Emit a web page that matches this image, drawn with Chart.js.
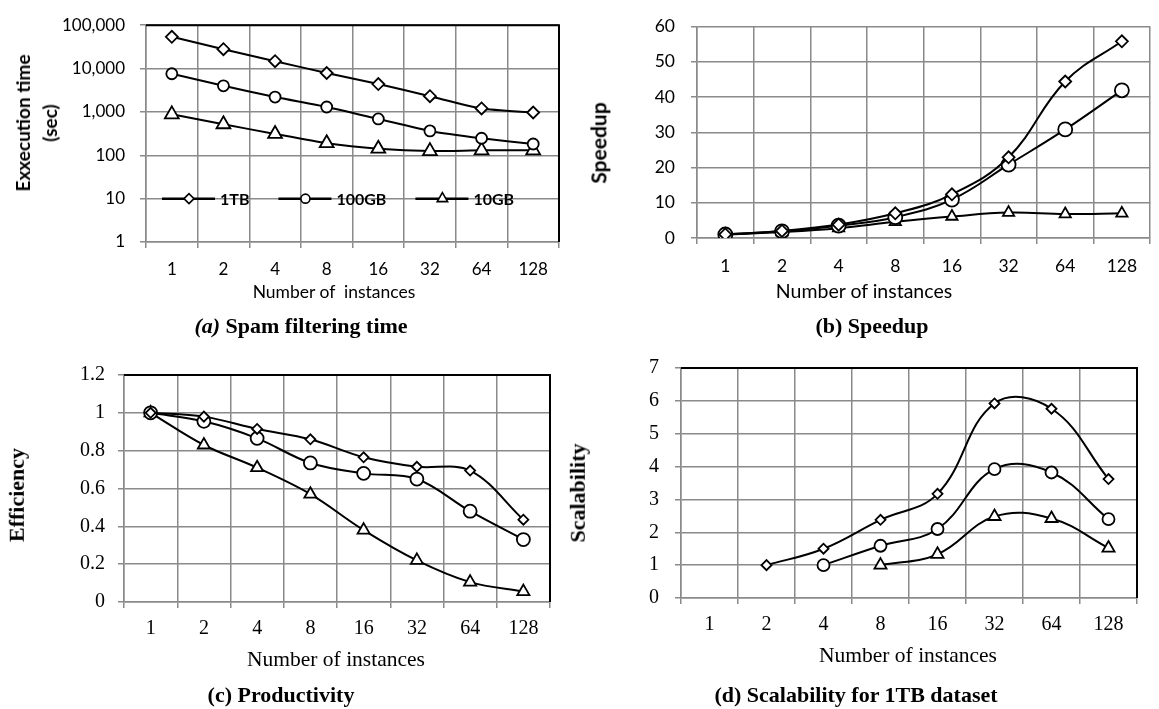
<!DOCTYPE html>
<html>
<head>
<meta charset="utf-8">
<script src="https://cdn.jsdelivr.net/npm/chart.js@4/dist/chart.umd.min.js"></script>
<style>
  html, body { margin: 0; padding: 0; background: #fff; }
  #page { position: relative; width: 1159px; height: 709px; overflow: hidden; background: #fff; }
  canvas { position: absolute; }
  .t { position: absolute; transform: translate(-50%, -50%); white-space: pre; color: #000; line-height: 1.2; }
  .rot { transform: translate(-50%, -50%) rotate(-90deg); text-align: center; }
  .sans { font-family: Lato, Carlito, Calibri, sans-serif; }
  .serif { font-family: "Liberation Serif", "Times New Roman", serif; }
</style>
</head>
<body>
<div id="page">
  <canvas id="chartA" width="580" height="300" style="left:0;top:0"></canvas>
  <canvas id="chartB" width="579" height="300" style="left:580px;top:0"></canvas>
  <canvas id="chartC" width="580" height="340" style="left:0;top:340px"></canvas>
  <canvas id="chartD" width="579" height="340" style="left:580px;top:340px"></canvas>

  <div class="t rot sans" style="left:36px;top:123px;font-size:19px;font-weight:bold;line-height:27px">Exxecution time<br>(sec)</div>
  <div class="t sans" style="left:334px;top:291px;font-size:17.5px">Number of  instances</div>
  <div class="t serif" style="left:301px;top:326px;font-size:22px;font-weight:bold"><i>(a)</i> Spam filtering time</div>

  <div class="t rot sans" style="left:598px;top:143px;font-size:21px;font-weight:bold">Speedup</div>
  <div class="t sans" style="left:864px;top:291px;font-size:19.5px">Number of instances</div>
  <div class="t serif" style="left:872px;top:326px;font-size:22px;font-weight:bold">(b) Speedup</div>

  <div class="t rot serif" style="left:17px;top:495px;font-size:22px;font-weight:bold">Efficiency</div>
  <div class="t serif" style="left:336px;top:660px;font-size:21.5px">Number of instances</div>
  <div class="t serif" style="left:281px;top:695px;font-size:22px;font-weight:bold">(c) Productivity</div>

  <div class="t rot serif" style="left:578px;top:493px;font-size:22px;font-weight:bold">Scalability</div>
  <div class="t serif" style="left:908px;top:656px;font-size:21.5px">Number of instances</div>
  <div class="t serif" style="left:856px;top:695px;font-size:22px;font-weight:bold">(d) Scalability for 1TB dataset</div>
</div>
<script>
// number of instances on every x axis
const instances = ['1', '2', '4', '8', '16', '32', '64', '128'];
const datasetNames = ['1TB', '100GB', '10GB'];

// (a) spam filtering time, seconds (log scale)
const timeTicks = [1, 10, 100, 1000, 10000, 100000];
const time1TB = [54000, 28000, 14800, 7900, 4400, 2300, 1200, 970];
const time100GB = [7600, 4000, 2200, 1300, 690, 365, 247, 182];
const time10GB = [880, 520, 310, 190, 142, 125, 130, 130];

// (b) speedup
const speed1TB = [1, 2.0, 3.8, 7.0, 12.4, 22.9, 44.4, 55.8];
const speed100GB = [1, 1.9, 3.5, 5.9, 10.9, 20.8, 30.8, 41.9];
const speed10GB = [1, 1.7, 2.8, 4.6, 6.1, 7.2, 6.8, 7.0];

// (c) efficiency
const eff1TB = [1, 0.98, 0.915, 0.86, 0.765, 0.715, 0.695, 0.435];
const eff100GB = [1, 0.955, 0.865, 0.735, 0.68, 0.65, 0.48, 0.33];
const eff10GB = [1, 0.83, 0.71, 0.57, 0.38, 0.22, 0.105, 0.055];

// (d) scalability for 1TB dataset
const scal1TB = [null, 1.0, 1.5, 2.38, 3.17, 5.92, 5.76, 3.62];
const scal100GB = [null, null, 1.0, 1.59, 2.1, 3.92, 3.82, 2.4];
const scal10GB = [null, null, null, 1.0, 1.33, 2.48, 2.42, 1.52];

const SANS = 'Lato, Carlito, Calibri, sans-serif';
const SERIF = '"Liberation Serif", "Times New Roman", serif';
const GRID = '#8a8a8a';
const SHAPES = ['rectRot', 'circle', 'triangle'];

function series(label, data, shape, radius, tension) {
  return {
    label, data,
    borderColor: '#000', backgroundColor: '#fff', borderWidth: 2,
    pointStyle: shape, pointRadius: radius, pointHoverRadius: radius,
    pointBorderWidth: 1.8, pointBackgroundColor: '#fff', pointBorderColor: '#000',
    tension
  };
}

// black top/right edge of the plot box
const frameEdge = {
  id: 'frameEdge',
  beforeDatasetsDraw(chart, args, opts) {
    if (!opts.on) return;
    const { ctx, chartArea: a } = chart;
    ctx.save();
    ctx.strokeStyle = '#000';
    ctx.lineWidth = 2;
    ctx.beginPath();
    ctx.moveTo(a.left, a.top);
    ctx.lineTo(a.right, a.top);
    ctx.lineTo(a.right, a.bottom);
    ctx.stroke();
    ctx.restore();
  }
};

// in-plot legend of chart (a), sitting on the "10" gridline
const innerLegend = {
  id: 'innerLegend',
  afterDatasetsDraw(chart, args, opts) {
    if (!opts.on) return;
    const { ctx, chartArea: a, scales: { y } } = chart;
    const yy = y.getPixelForValue(opts.at);
    const sizes = [5, 4.5, 6];
    let x = a.left + 16;
    ctx.save();
    ctx.font = 'bold 16px ' + SANS;
    ctx.textBaseline = 'middle';
    chart.data.datasets.forEach((ds, i) => {
      ctx.strokeStyle = '#000';
      ctx.lineWidth = 2.5;
      ctx.beginPath();
      ctx.moveTo(x, yy);
      ctx.lineTo(x + 53, yy);
      ctx.stroke();
      ctx.fillStyle = '#fff';
      ctx.lineWidth = 1.6;
      Chart.helpers.drawPoint(ctx, { pointStyle: SHAPES[i], radius: sizes[i], borderWidth: 1.6, rotation: 0 }, x + 27, yy);
      ctx.fillStyle = '#000';
      ctx.fillText(ds.label, x + 58, yy + 1);
      x += 58 + ctx.measureText(ds.label).width + 29;
    });
    ctx.restore();
  }
};

function xAxis(font, height, pad) {
  return {
    type: 'category', offset: true,
    grid: { offset: true, color: GRID, lineWidth: 1.5, tickLength: 6, tickColor: GRID },
    border: { color: GRID, width: 1.5 },
    ticks: { color: '#000', font, padding: pad, maxRotation: 0, autoSkip: false },
    afterFit: s => { s.height = height; }
  };
}

function yAxis(font, width, pad, extra) {
  return Object.assign({
    grid: { color: GRID, lineWidth: 1.5, tickLength: 6, tickColor: GRID },
    border: { color: GRID, width: 1.5 },
    ticks: { color: '#000', font, padding: pad },
    afterFit: s => { s.width = width; }
  }, extra);
}

function build(id, datasets, scales, padding, plugins) {
  return new Chart(document.getElementById(id), {
    type: 'line',
    data: { labels: instances, datasets },
    options: {
      responsive: false, animation: false, events: [],
      layout: { padding },
      scales,
      plugins: Object.assign({ legend: { display: false }, tooltip: { enabled: false } }, plugins)
    },
    plugins: [frameEdge, innerLegend]
  });
}

const sansTick = { family: SANS, size: 17 };
const serifTick = { family: SERIF, size: 20 };

// (a)
build('chartA', [
  series(datasetNames[0], time1TB, SHAPES[0], 6, 0.2),
  series(datasetNames[1], time100GB, SHAPES[1], 5.5, 0.2),
  series(datasetNames[2], time10GB, SHAPES[2], 8, 0.2)
], {
  x: xAxis(sansTick, 58, 11),
  y: yAxis(sansTick, 146, 15, {
    type: 'logarithmic', min: 1, max: 100000,
    afterBuildTicks: s => { s.ticks = timeTicks.map(v => ({ value: v })); },
    ticks: { color: '#000', font: sansTick, padding: 15, callback: v => Number(v).toLocaleString('en-US') }
  })
}, { top: 15, right: 21, left: 0, bottom: 0 }, { frameEdge: { on: true }, innerLegend: { on: true, at: 10 } });

// (b)
build('chartB', [
  series(datasetNames[0], speed1TB, SHAPES[0], 6, 0.4),
  series(datasetNames[1], speed100GB, SHAPES[1], 7, 0.4),
  series(datasetNames[2], speed10GB, SHAPES[2], 6.5, 0.4)
], {
  x: xAxis({ family: SANS, size: 17.5 }, 62, 12),
  y: yAxis({ family: SANS, size: 17.5 }, 117, 16, { min: 0, max: 60, ticks: { color: '#000', font: { family: SANS, size: 17.5 }, padding: 16, stepSize: 10 } })
}, { top: 13, right: 1, left: 0, bottom: 0 }, { frameEdge: { on: false }, innerLegend: { on: false } });

// (c)
build('chartC', [
  series(datasetNames[0], eff1TB, SHAPES[0], 5, 0.35),
  series(datasetNames[1], eff100GB, SHAPES[1], 6.5, 0.35),
  series(datasetNames[2], eff10GB, SHAPES[2], 7, 0.35)
], {
  x: xAxis(serifTick, 78, 9),
  y: yAxis(serifTick, 124, 13, { min: 0, max: 1.2, ticks: { color: '#000', font: serifTick, padding: 13, stepSize: 0.2, callback: v => String(+v.toFixed(1)) } })
}, { top: 35, right: 30, left: 0, bottom: 0 }, { frameEdge: { on: true }, innerLegend: { on: false } });

// (d)
build('chartD', [
  series(datasetNames[0], scal1TB, SHAPES[0], 5, 0.4),
  series(datasetNames[1], scal100GB, SHAPES[1], 6, 0.4),
  series(datasetNames[2], scal10GB, SHAPES[2], 7, 0.4)
], {
  x: xAxis(serifTick, 82, 9),
  y: yAxis(serifTick, 101, 16, { min: 0, max: 7, ticks: { color: '#000', font: serifTick, padding: 16, stepSize: 1 } })
}, { top: 26, right: 22, left: 0, bottom: 0 }, { frameEdge: { on: true }, innerLegend: { on: false } });
</script>
</body>
</html>
